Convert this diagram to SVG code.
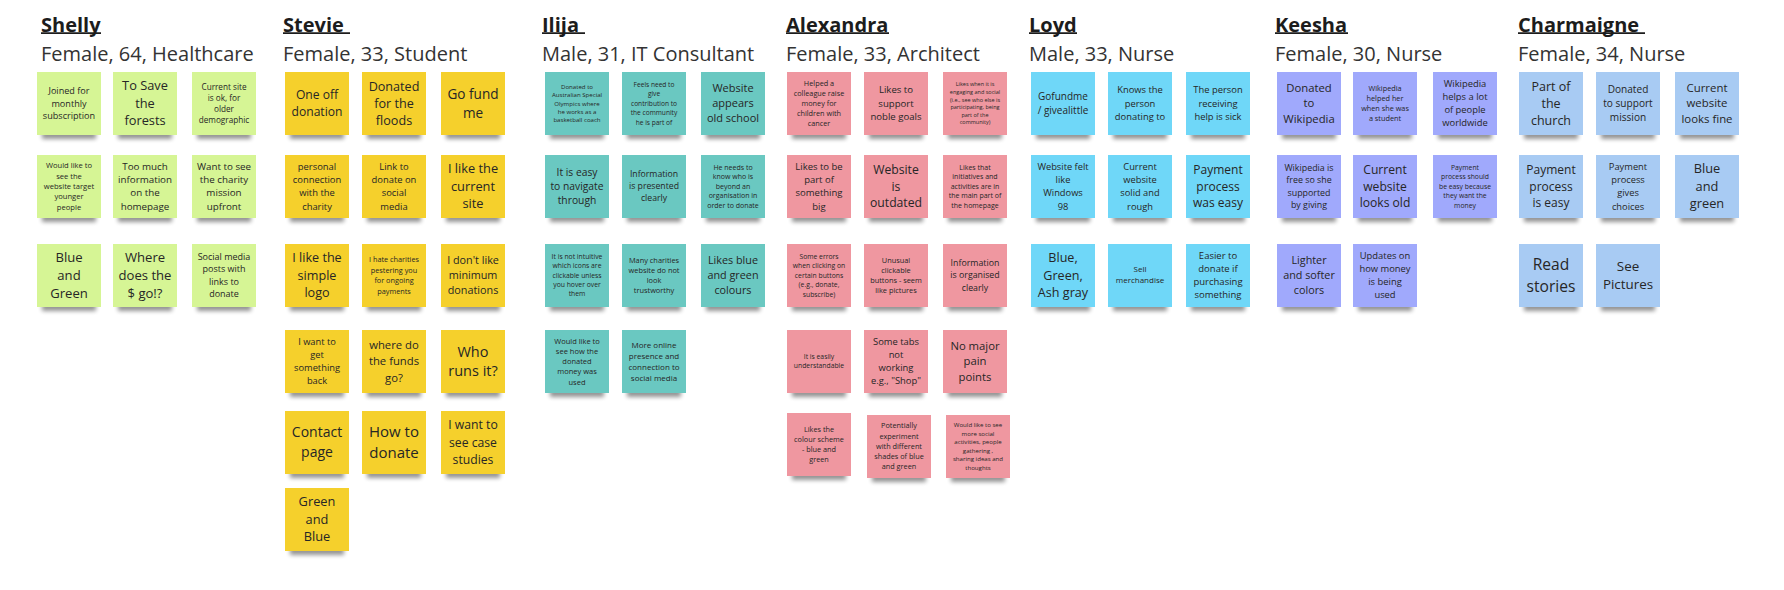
<svg xmlns="http://www.w3.org/2000/svg" width="1784" height="590" viewBox="0 0 1784 590">
<defs>
<filter id="blur" x="-20%" y="-100%" width="140%" height="300%"><feGaussianBlur stdDeviation="2.2"/></filter>
<style>
.hd{font-family:"Open Sans","Noto Sans","Liberation Sans",sans-serif;font-weight:700;font-size:20px;fill:#1c1c1c}
.sub{font-family:"Open Sans","Noto Sans","Liberation Sans",sans-serif;font-size:20px;fill:#333333}
.ul{stroke:#1c1c1c;stroke-width:1.7}
.t{font-family:"Open Sans","Noto Sans","Liberation Sans",sans-serif;fill:#262626;text-anchor:middle}
.sh{fill:#000;opacity:0.42;filter:url(#blur)}
.gr{fill:#d6f595}
.ye{fill:#f5d02c}
.te{fill:#6ac8c1}
.pk{fill:#ef97a0}
.bl{fill:#6fd7f8}
.vi{fill:#a0a9fc}
.lb{fill:#a8cbf3}
</style>
</defs>
<rect width="1784" height="590" fill="#ffffff"/>

<g id="headers">
<g id="shelly-header"><text class="hd" x="41" y="31.5">Shelly</text><line class="ul" x1="41" y1="33.2" x2="101" y2="33.2"/><text class="sub" x="41" y="60.5">Female, 64, Healthcare</text></g>
<g id="stevie-header"><text class="hd" x="283" y="31.5">Stevie</text><line class="ul" x1="283" y1="33.2" x2="350" y2="33.2"/><text class="sub" x="283" y="60.5">Female, 33, Student</text></g>
<g id="ilija-header"><text class="hd" x="542" y="31.5">Ilija</text><line class="ul" x1="542" y1="33.2" x2="585" y2="33.2"/><text class="sub" x="542" y="60.5">Male, 31, IT Consultant</text></g>
<g id="alexandra-header"><text class="hd" x="786" y="31.5">Alexandra</text><line class="ul" x1="786" y1="33.2" x2="889" y2="33.2"/><text class="sub" x="786" y="60.5">Female, 33, Architect</text></g>
<g id="loyd-header"><text class="hd" x="1029" y="31.5">Loyd</text><line class="ul" x1="1029" y1="33.2" x2="1077" y2="33.2"/><text class="sub" x="1029" y="60.5">Male, 33, Nurse</text></g>
<g id="keesha-header"><text class="hd" x="1275" y="31.5">Keesha</text><line class="ul" x1="1275" y1="33.2" x2="1348" y2="33.2"/><text class="sub" x="1275" y="60.5">Female, 30, Nurse</text></g>
<g id="charmaigne-header"><text class="hd" x="1518" y="31.5">Charmaigne</text><line class="ul" x1="1518" y1="33.2" x2="1645" y2="33.2"/><text class="sub" x="1518" y="60.5">Female, 34, Nurse</text></g>
</g>

<g id="connectors"></g>

<!-- Shelly -->
<g id="shelly-1"><rect class="sh" x="42" y="131" width="54" height="8"/><rect class="gr" x="37" y="72" width="64" height="63"/><text class="t" font-size="9.1"><tspan x="69" y="94.2">Joined for</tspan><tspan x="69" y="106.5">monthly</tspan><tspan x="69" y="118.8">subscription</tspan></text></g>
<g id="shelly-2"><rect class="sh" x="118" y="131" width="54" height="8"/><rect class="gr" x="113" y="72" width="64" height="63"/><text class="t" font-size="12.8"><tspan x="145" y="90.4">To Save</tspan><tspan x="145" y="107.7">the</tspan><tspan x="145" y="125">forests</tspan></text></g>
<g id="shelly-3"><rect class="sh" x="197" y="131" width="54" height="8"/><rect class="gr" x="192" y="72" width="64" height="63"/><text class="t" font-size="8.2"><tspan x="224" y="89.6">Current site</tspan><tspan x="224" y="100.7">is ok, for</tspan><tspan x="224" y="111.8">older</tspan><tspan x="224" y="122.9">demographic</tspan></text></g>
<g id="shelly-4"><rect class="sh" x="42" y="214" width="54" height="8"/><rect class="gr" x="37" y="155" width="64" height="63"/><text class="t" font-size="7.6"><tspan x="69" y="168.4">Would like to</tspan><tspan x="69" y="178.7">see the</tspan><tspan x="69" y="189">website target</tspan><tspan x="69" y="199.3">younger</tspan><tspan x="69" y="209.6">people</tspan></text></g>
<g id="shelly-5"><rect class="sh" x="118" y="214" width="54" height="8"/><rect class="gr" x="113" y="155" width="64" height="63"/><text class="t" font-size="9.8"><tspan x="145" y="169.8">Too much</tspan><tspan x="145" y="183.1">information</tspan><tspan x="145" y="196.4">on the</tspan><tspan x="145" y="209.7">homepage</tspan></text></g>
<g id="shelly-6"><rect class="sh" x="197" y="214" width="54" height="8"/><rect class="gr" x="192" y="155" width="64" height="63"/><text class="t" font-size="9.8"><tspan x="224" y="169.8">Want to see</tspan><tspan x="224" y="183.1">the charity</tspan><tspan x="224" y="196.4">mission</tspan><tspan x="224" y="209.7">upfront</tspan></text></g>
<g id="shelly-7"><rect class="sh" x="42" y="303" width="54" height="8"/><rect class="gr" x="37" y="244" width="64" height="63"/><text class="t" font-size="13.1"><tspan x="69" y="262.1">Blue</tspan><tspan x="69" y="279.8">and</tspan><tspan x="69" y="297.5">Green</tspan></text></g>
<g id="shelly-8"><rect class="sh" x="118" y="303" width="54" height="8"/><rect class="gr" x="113" y="244" width="64" height="63"/><text class="t" font-size="13.1"><tspan x="145" y="262.1">Where</tspan><tspan x="145" y="279.8">does the</tspan><tspan x="145" y="297.5">$ go!?</tspan></text></g>
<g id="shelly-9"><rect class="sh" x="197" y="303" width="54" height="8"/><rect class="gr" x="192" y="244" width="64" height="63"/><text class="t" font-size="9"><tspan x="224" y="260.2">Social media</tspan><tspan x="224" y="272.4">posts with</tspan><tspan x="224" y="284.6">links to</tspan><tspan x="224" y="296.8">donate</tspan></text></g>

<!-- Stevie -->
<g id="stevie-1"><rect class="sh" x="290" y="131" width="54" height="8"/><rect class="ye" x="285" y="72" width="64" height="63"/><text class="t" font-size="12.1"><tspan x="317" y="99.4">One off</tspan><tspan x="317" y="115.7">donation</tspan></text></g>
<g id="stevie-2"><rect class="sh" x="367" y="131" width="54" height="8"/><rect class="ye" x="362" y="72" width="64" height="63"/><text class="t" font-size="12.6"><tspan x="394" y="90.7">Donated</tspan><tspan x="394" y="107.7">for the</tspan><tspan x="394" y="124.7">floods</tspan></text></g>
<g id="stevie-3"><rect class="sh" x="446" y="131" width="54" height="8"/><rect class="ye" x="441" y="72" width="64" height="63"/><text class="t" font-size="13.6"><tspan x="473" y="98.5">Go fund</tspan><tspan x="473" y="117.5">me</tspan></text></g>
<g id="stevie-4"><rect class="sh" x="290" y="214" width="54" height="8"/><rect class="ye" x="285" y="155" width="64" height="63"/><text class="t" font-size="9.4"><tspan x="317" y="169.7">personal</tspan><tspan x="317" y="183">connection</tspan><tspan x="317" y="196.3">with the</tspan><tspan x="317" y="209.6">charity</tspan></text></g>
<g id="stevie-5"><rect class="sh" x="367" y="214" width="54" height="8"/><rect class="ye" x="362" y="155" width="64" height="63"/><text class="t" font-size="9.4"><tspan x="394" y="169.7">Link to</tspan><tspan x="394" y="183">donate on</tspan><tspan x="394" y="196.3">social</tspan><tspan x="394" y="209.6">media</tspan></text></g>
<g id="stevie-6"><rect class="sh" x="446" y="214" width="54" height="8"/><rect class="ye" x="441" y="155" width="64" height="63"/><text class="t" font-size="12.8"><tspan x="473" y="173">I like the</tspan><tspan x="473" y="190.7">current</tspan><tspan x="473" y="208.4">site</tspan></text></g>
<g id="stevie-7"><rect class="sh" x="290" y="303" width="54" height="8"/><rect class="ye" x="285" y="244" width="64" height="63"/><text class="t" font-size="12.6"><tspan x="317" y="262.2">I like the</tspan><tspan x="317" y="279.7">simple</tspan><tspan x="317" y="297.2">logo</tspan></text></g>
<g id="stevie-8"><rect class="sh" x="367" y="303" width="54" height="8"/><rect class="ye" x="362" y="244" width="64" height="63"/><text class="t" font-size="7.3"><tspan x="394" y="262.3">I hate charities</tspan><tspan x="394" y="272.7">pestering you</tspan><tspan x="394" y="283.1">for ongoing</tspan><tspan x="394" y="293.5">payments</tspan></text></g>
<g id="stevie-9"><rect class="sh" x="446" y="303" width="54" height="8"/><rect class="ye" x="441" y="244" width="64" height="63"/><text class="t" font-size="10.8"><tspan x="473" y="264.1">I don't like</tspan><tspan x="473" y="279.1">minimum</tspan><tspan x="473" y="294.1">donations</tspan></text></g>
<g id="stevie-10"><rect class="sh" x="290" y="389" width="54" height="8"/><rect class="ye" x="285" y="330" width="64" height="63"/><text class="t" font-size="9.3"><tspan x="317" y="345.1">I want to</tspan><tspan x="317" y="358.1">get</tspan><tspan x="317" y="371.1">something</tspan><tspan x="317" y="384.1">back</tspan></text></g>
<g id="stevie-11"><rect class="sh" x="367" y="389" width="54" height="8"/><rect class="ye" x="362" y="330" width="64" height="63"/><text class="t" font-size="11.3"><tspan x="394" y="348.9">where do</tspan><tspan x="394" y="365.2">the funds</tspan><tspan x="394" y="381.5">go?</tspan></text></g>
<g id="stevie-12"><rect class="sh" x="446" y="389" width="54" height="8"/><rect class="ye" x="441" y="330" width="64" height="63"/><text class="t" font-size="14.5"><tspan x="473" y="356.5">Who</tspan><tspan x="473" y="376.2">runs it?</tspan></text></g>
<g id="stevie-13"><rect class="sh" x="290" y="470" width="54" height="8"/><rect class="ye" x="285" y="411" width="64" height="63"/><text class="t" font-size="14"><tspan x="317" y="437.1">Contact</tspan><tspan x="317" y="457.1">page</tspan></text></g>
<g id="stevie-14"><rect class="sh" x="367" y="470" width="54" height="8"/><rect class="ye" x="362" y="411" width="64" height="63"/><text class="t" font-size="15"><tspan x="394" y="437.2">How to</tspan><tspan x="394" y="457.9">donate</tspan></text></g>
<g id="stevie-15"><rect class="sh" x="446" y="470" width="54" height="8"/><rect class="ye" x="441" y="411" width="64" height="63"/><text class="t" font-size="12.2"><tspan x="473" y="429">I want to</tspan><tspan x="473" y="446.5">see case</tspan><tspan x="473" y="464">studies</tspan></text></g>
<g id="stevie-16"><rect class="sh" x="290" y="547" width="54" height="8"/><rect class="ye" x="285" y="488" width="64" height="63"/><text class="t" font-size="12.8"><tspan x="317" y="506.2">Green</tspan><tspan x="317" y="523.7">and</tspan><tspan x="317" y="541.2">Blue</tspan></text></g>

<!-- Ilija -->
<g id="ilija-1"><rect class="sh" x="550" y="131" width="54" height="8"/><rect class="te" x="545" y="72" width="64" height="63"/><text class="t" font-size="6.1"><tspan x="577" y="88.7">Donated to</tspan><tspan x="577" y="97.1">Australian Special</tspan><tspan x="577" y="105.5">Olympics where</tspan><tspan x="577" y="113.9">he works as a</tspan><tspan x="577" y="122.3">basketball coach</tspan></text></g>
<g id="ilija-2"><rect class="sh" x="627" y="131" width="54" height="8"/><rect class="te" x="622" y="72" width="64" height="63"/><text class="t" font-size="6.6"><tspan x="654" y="86.7">Feels need to</tspan><tspan x="654" y="96.2">give</tspan><tspan x="654" y="105.7">contribution to</tspan><tspan x="654" y="115.2">the community</tspan><tspan x="654" y="124.7">he is part of</tspan></text></g>
<g id="ilija-3"><rect class="sh" x="706" y="131" width="54" height="8"/><rect class="te" x="701" y="72" width="64" height="63"/><text class="t" font-size="11"><tspan x="733" y="91.8">Website</tspan><tspan x="733" y="107.1">appears</tspan><tspan x="733" y="122.4">old school</tspan></text></g>
<g id="ilija-4"><rect class="sh" x="550" y="214" width="54" height="8"/><rect class="te" x="545" y="155" width="64" height="63"/><text class="t" font-size="10.3"><tspan x="577" y="176.2">It is easy</tspan><tspan x="577" y="189.9">to navigate</tspan><tspan x="577" y="203.6">through</tspan></text></g>
<g id="ilija-5"><rect class="sh" x="627" y="214" width="54" height="8"/><rect class="te" x="622" y="155" width="64" height="63"/><text class="t" font-size="8.7"><tspan x="654" y="177.4">Information</tspan><tspan x="654" y="189.4">is presented</tspan><tspan x="654" y="201.4">clearly</tspan></text></g>
<g id="ilija-6"><rect class="sh" x="706" y="214" width="54" height="8"/><rect class="te" x="701" y="155" width="64" height="63"/><text class="t" font-size="7"><tspan x="733" y="169.6">He needs to</tspan><tspan x="733" y="179.2">know who is</tspan><tspan x="733" y="188.8">beyond an</tspan><tspan x="733" y="198.4">organisation in</tspan><tspan x="733" y="208">order to donate</tspan></text></g>
<g id="ilija-7"><rect class="sh" x="550" y="303" width="54" height="8"/><rect class="te" x="545" y="244" width="64" height="63"/><text class="t" font-size="6.8"><tspan x="577" y="259.1">It is not intuitive</tspan><tspan x="577" y="268.4">which icons are</tspan><tspan x="577" y="277.7">clickable unless</tspan><tspan x="577" y="287">you hover over</tspan><tspan x="577" y="296.3">them</tspan></text></g>
<g id="ilija-8"><rect class="sh" x="627" y="303" width="54" height="8"/><rect class="te" x="622" y="244" width="64" height="63"/><text class="t" font-size="7.4"><tspan x="654" y="262.6">Many charities</tspan><tspan x="654" y="272.8">website do not</tspan><tspan x="654" y="283">look</tspan><tspan x="654" y="293.2">trustworthy</tspan></text></g>
<g id="ilija-9"><rect class="sh" x="706" y="303" width="54" height="8"/><rect class="te" x="701" y="244" width="64" height="63"/><text class="t" font-size="10.8"><tspan x="733" y="264.1">Likes blue</tspan><tspan x="733" y="279.1">and green</tspan><tspan x="733" y="294.1">colours</tspan></text></g>
<g id="ilija-10"><rect class="sh" x="550" y="389" width="54" height="8"/><rect class="te" x="545" y="330" width="64" height="63"/><text class="t" font-size="7.5"><tspan x="577" y="343.5">Would like to</tspan><tspan x="577" y="353.8">see how the</tspan><tspan x="577" y="364">donated</tspan><tspan x="577" y="374.3">money was</tspan><tspan x="577" y="384.5">used</tspan></text></g>
<g id="ilija-11"><rect class="sh" x="627" y="389" width="54" height="8"/><rect class="te" x="622" y="330" width="64" height="63"/><text class="t" font-size="8"><tspan x="654" y="347.5">More online</tspan><tspan x="654" y="358.6">presence and</tspan><tspan x="654" y="369.7">connection to</tspan><tspan x="654" y="380.8">social media</tspan></text></g>

<!-- Alexandra -->
<g id="alexandra-1"><rect class="sh" x="792" y="131" width="54" height="8"/><rect class="pk" x="787" y="72" width="64" height="63"/><text class="t" font-size="7.3"><tspan x="819" y="85.5">Helped a</tspan><tspan x="819" y="95.7">colleague raise</tspan><tspan x="819" y="105.9">money for</tspan><tspan x="819" y="116.1">children with</tspan><tspan x="819" y="126.3">cancer</tspan></text></g>
<g id="alexandra-2"><rect class="sh" x="869" y="131" width="54" height="8"/><rect class="pk" x="864" y="72" width="64" height="63"/><text class="t" font-size="9.6"><tspan x="896" y="93">Likes to</tspan><tspan x="896" y="106.7">support</tspan><tspan x="896" y="120.4">noble goals</tspan></text></g>
<g id="alexandra-3"><rect class="sh" x="948" y="131" width="54" height="8"/><rect class="pk" x="943" y="72" width="64" height="63"/><text class="t" font-size="5.5"><tspan x="975" y="86.3">Likes when it is</tspan><tspan x="975" y="93.9">engaging and social</tspan><tspan x="975" y="101.5">(i.e., see who else is</tspan><tspan x="975" y="109.1">participating, being</tspan><tspan x="975" y="116.7">part of the</tspan><tspan x="975" y="124.3">community)</tspan></text></g>
<g id="alexandra-4"><rect class="sh" x="792" y="214" width="54" height="8"/><rect class="pk" x="787" y="155" width="64" height="63"/><text class="t" font-size="9.5"><tspan x="819" y="169.7">Likes to be</tspan><tspan x="819" y="183">part of</tspan><tspan x="819" y="196.3">something</tspan><tspan x="819" y="209.6">big</tspan></text></g>
<g id="alexandra-5"><rect class="sh" x="869" y="214" width="54" height="8"/><rect class="pk" x="864" y="155" width="64" height="63"/><text class="t" font-size="12.2"><tspan x="896" y="173.8">Website</tspan><tspan x="896" y="190.5">is</tspan><tspan x="896" y="207.2">outdated</tspan></text></g>
<g id="alexandra-6"><rect class="sh" x="948" y="214" width="54" height="8"/><rect class="pk" x="943" y="155" width="64" height="63"/><text class="t" font-size="7"><tspan x="975" y="169.6">Likes that</tspan><tspan x="975" y="179.2">initiatives and</tspan><tspan x="975" y="188.8">activities are in</tspan><tspan x="975" y="198.4">the main part of</tspan><tspan x="975" y="208">the homepage</tspan></text></g>
<g id="alexandra-7"><rect class="sh" x="792" y="303" width="54" height="8"/><rect class="pk" x="787" y="244" width="64" height="63"/><text class="t" font-size="6.8"><tspan x="819" y="258.9">Some errors</tspan><tspan x="819" y="268.3">when clicking on</tspan><tspan x="819" y="277.7">certain buttons</tspan><tspan x="819" y="287.1">(e.g., donate,</tspan><tspan x="819" y="296.5">subscribe)</tspan></text></g>
<g id="alexandra-8"><rect class="sh" x="869" y="303" width="54" height="8"/><rect class="pk" x="864" y="244" width="64" height="63"/><text class="t" font-size="7.4"><tspan x="896" y="262.6">Unusual</tspan><tspan x="896" y="272.8">clickable</tspan><tspan x="896" y="283">buttons - seem</tspan><tspan x="896" y="293.2">like pictures</tspan></text></g>
<g id="alexandra-9"><rect class="sh" x="948" y="303" width="54" height="8"/><rect class="pk" x="943" y="244" width="64" height="63"/><text class="t" font-size="8.8"><tspan x="975" y="266.1">Information</tspan><tspan x="975" y="278.4">is organised</tspan><tspan x="975" y="290.7">clearly</tspan></text></g>
<g id="alexandra-10"><rect class="sh" x="792" y="389" width="54" height="8"/><rect class="pk" x="787" y="330" width="64" height="63"/><text class="t" font-size="6.8"><tspan x="819" y="359">It is easily</tspan><tspan x="819" y="368.3">understandable</tspan></text></g>
<g id="alexandra-11"><rect class="sh" x="869" y="389" width="54" height="8"/><rect class="pk" x="864" y="330" width="64" height="63"/><text class="t" font-size="9.4"><tspan x="896" y="345.1">Some tabs</tspan><tspan x="896" y="358.1">not</tspan><tspan x="896" y="371.1">working</tspan><tspan x="896" y="384.1">e.g., "Shop"</tspan></text></g>
<g id="alexandra-12"><rect class="sh" x="948" y="389" width="54" height="8"/><rect class="pk" x="943" y="330" width="64" height="63"/><text class="t" font-size="11.3"><tspan x="975" y="349.5">No major</tspan><tspan x="975" y="365.2">pain</tspan><tspan x="975" y="380.9">points</tspan></text></g>
<g id="alexandra-13"><rect class="sh" x="792" y="472" width="54" height="8"/><rect class="pk" x="787" y="413" width="64" height="63"/><text class="t" font-size="7.3"><tspan x="819" y="431.6">Likes the</tspan><tspan x="819" y="441.8">colour scheme</tspan><tspan x="819" y="452">- blue and</tspan><tspan x="819" y="462.2">green</tspan></text></g>
<g id="alexandra-14"><rect class="sh" x="872" y="474" width="54" height="8"/><rect class="pk" x="867" y="415" width="64" height="63"/><text class="t" font-size="7.3"><tspan x="899" y="428.4">Potentially</tspan><tspan x="899" y="438.7">experiment</tspan><tspan x="899" y="448.9">with different</tspan><tspan x="899" y="459.2">shades of blue</tspan><tspan x="899" y="469.4">and green</tspan></text></g>
<g id="alexandra-15"><rect class="sh" x="951" y="474" width="54" height="8"/><rect class="pk" x="946" y="415" width="64" height="63"/><text class="t" font-size="6.1"><tspan x="978" y="427.3">Would like to see</tspan><tspan x="978" y="435.8">more social</tspan><tspan x="978" y="444.3">activities, people</tspan><tspan x="978" y="452.8">gathering ,</tspan><tspan x="978" y="461.3">sharing ideas and</tspan><tspan x="978" y="469.8">thoughts</tspan></text></g>

<!-- Loyd -->
<g id="loyd-1"><rect class="sh" x="1036" y="131" width="54" height="8"/><rect class="bl" x="1031" y="72" width="64" height="63"/><text class="t" font-size="10"><tspan x="1063" y="99.8">Gofundme</tspan><tspan x="1063" y="113.8">/ givealittle</tspan></text></g>
<g id="loyd-2"><rect class="sh" x="1113" y="131" width="54" height="8"/><rect class="bl" x="1108" y="72" width="64" height="63"/><text class="t" font-size="9.4"><tspan x="1140" y="92.9">Knows the</tspan><tspan x="1140" y="106.6">person</tspan><tspan x="1140" y="120.3">donating to</tspan></text></g>
<g id="loyd-3"><rect class="sh" x="1191" y="131" width="54" height="8"/><rect class="bl" x="1186" y="72" width="64" height="63"/><text class="t" font-size="9.4"><tspan x="1218" y="92.9">The person</tspan><tspan x="1218" y="106.6">receiving</tspan><tspan x="1218" y="120.3">help is sick</tspan></text></g>
<g id="loyd-4"><rect class="sh" x="1036" y="214" width="54" height="8"/><rect class="bl" x="1031" y="155" width="64" height="63"/><text class="t" font-size="9.3"><tspan x="1063" y="169.7">Website felt</tspan><tspan x="1063" y="183">like</tspan><tspan x="1063" y="196.3">Windows</tspan><tspan x="1063" y="209.6">98</tspan></text></g>
<g id="loyd-5"><rect class="sh" x="1113" y="214" width="54" height="8"/><rect class="bl" x="1108" y="155" width="64" height="63"/><text class="t" font-size="9.3"><tspan x="1140" y="169.7">Current</tspan><tspan x="1140" y="183">website</tspan><tspan x="1140" y="196.3">solid and</tspan><tspan x="1140" y="209.6">rough</tspan></text></g>
<g id="loyd-6"><rect class="sh" x="1191" y="214" width="54" height="8"/><rect class="bl" x="1186" y="155" width="64" height="63"/><text class="t" font-size="12"><tspan x="1218" y="173.8">Payment</tspan><tspan x="1218" y="190.5">process</tspan><tspan x="1218" y="207.2">was easy</tspan></text></g>
<g id="loyd-7"><rect class="sh" x="1036" y="303" width="54" height="8"/><rect class="bl" x="1031" y="244" width="64" height="63"/><text class="t" font-size="12.6"><tspan x="1063" y="262.2">Blue,</tspan><tspan x="1063" y="279.7">Green,</tspan><tspan x="1063" y="297.2">Ash gray</tspan></text></g>
<g id="loyd-8"><rect class="sh" x="1113" y="303" width="54" height="8"/><rect class="bl" x="1108" y="244" width="64" height="63"/><text class="t" font-size="8"><tspan x="1140" y="271.8">Sell</tspan><tspan x="1140" y="282.8">merchandise</tspan></text></g>
<g id="loyd-9"><rect class="sh" x="1191" y="303" width="54" height="8"/><rect class="bl" x="1186" y="244" width="64" height="63"/><text class="t" font-size="9.5"><tspan x="1218" y="259">Easier to</tspan><tspan x="1218" y="272.1">donate if</tspan><tspan x="1218" y="285.2">purchasing</tspan><tspan x="1218" y="298.3">something</tspan></text></g>

<!-- Keesha -->
<g id="keesha-1"><rect class="sh" x="1282" y="131" width="54" height="8"/><rect class="vi" x="1277" y="72" width="64" height="63"/><text class="t" font-size="11.3"><tspan x="1309" y="91.7">Donated</tspan><tspan x="1309" y="107.2">to</tspan><tspan x="1309" y="122.7">Wikipedia</tspan></text></g>
<g id="keesha-2"><rect class="sh" x="1358" y="131" width="54" height="8"/><rect class="vi" x="1353" y="72" width="64" height="63"/><text class="t" font-size="7.3"><tspan x="1385" y="90.6">Wikipedia</tspan><tspan x="1385" y="100.8">helped her</tspan><tspan x="1385" y="111">when she was</tspan><tspan x="1385" y="121.2">a student</tspan></text></g>
<g id="keesha-3"><rect class="sh" x="1438" y="131" width="54" height="8"/><rect class="vi" x="1433" y="72" width="64" height="63"/><text class="t" font-size="9.4"><tspan x="1465" y="86.8">Wikipedia</tspan><tspan x="1465" y="100">helps a lot</tspan><tspan x="1465" y="113.2">of people</tspan><tspan x="1465" y="126.4">worldwide</tspan></text></g>
<g id="keesha-4"><rect class="sh" x="1282" y="214" width="54" height="8"/><rect class="vi" x="1277" y="155" width="64" height="63"/><text class="t" font-size="8.9"><tspan x="1309" y="170.5">Wikipedia is</tspan><tspan x="1309" y="183.1">free so she</tspan><tspan x="1309" y="195.7">supported</tspan><tspan x="1309" y="208.3">by giving</tspan></text></g>
<g id="keesha-5"><rect class="sh" x="1358" y="214" width="54" height="8"/><rect class="vi" x="1353" y="155" width="64" height="63"/><text class="t" font-size="12.1"><tspan x="1385" y="173.8">Current</tspan><tspan x="1385" y="190.5">website</tspan><tspan x="1385" y="207.2">looks old</tspan></text></g>
<g id="keesha-6"><rect class="sh" x="1438" y="214" width="54" height="8"/><rect class="vi" x="1433" y="155" width="64" height="63"/><text class="t" font-size="6.8"><tspan x="1465" y="169.9">Payment</tspan><tspan x="1465" y="179.3">process should</tspan><tspan x="1465" y="188.7">be easy because</tspan><tspan x="1465" y="198.1">they want the</tspan><tspan x="1465" y="207.5">money</tspan></text></g>
<g id="keesha-7"><rect class="sh" x="1282" y="303" width="54" height="8"/><rect class="vi" x="1277" y="244" width="64" height="63"/><text class="t" font-size="10.8"><tspan x="1309" y="264.1">Lighter</tspan><tspan x="1309" y="279.1">and softer</tspan><tspan x="1309" y="294.1">colors</tspan></text></g>
<g id="keesha-8"><rect class="sh" x="1358" y="303" width="54" height="8"/><rect class="vi" x="1353" y="244" width="64" height="63"/><text class="t" font-size="9.4"><tspan x="1385" y="259.1">Updates on</tspan><tspan x="1385" y="272.1">how money</tspan><tspan x="1385" y="285.1">is being</tspan><tspan x="1385" y="298.1">used</tspan></text></g>

<!-- Charmaigne -->
<g id="charmaigne-1"><rect class="sh" x="1524" y="131" width="54" height="8"/><rect class="lb" x="1519" y="72" width="64" height="63"/><text class="t" font-size="12.5"><tspan x="1551" y="90.6">Part of</tspan><tspan x="1551" y="107.6">the</tspan><tspan x="1551" y="124.6">church</tspan></text></g>
<g id="charmaigne-2"><rect class="sh" x="1601" y="131" width="54" height="8"/><rect class="lb" x="1596" y="72" width="64" height="63"/><text class="t" font-size="10.1"><tspan x="1628" y="93.1">Donated</tspan><tspan x="1628" y="106.8">to support</tspan><tspan x="1628" y="120.5">mission</tspan></text></g>
<g id="charmaigne-3"><rect class="sh" x="1680" y="131" width="54" height="8"/><rect class="lb" x="1675" y="72" width="64" height="63"/><text class="t" font-size="11.4"><tspan x="1707" y="91.8">Current</tspan><tspan x="1707" y="107.3">website</tspan><tspan x="1707" y="122.8">looks fine</tspan></text></g>
<g id="charmaigne-4"><rect class="sh" x="1524" y="214" width="54" height="8"/><rect class="lb" x="1519" y="155" width="64" height="63"/><text class="t" font-size="12"><tspan x="1551" y="173.8">Payment</tspan><tspan x="1551" y="190.5">process</tspan><tspan x="1551" y="207.2">is easy</tspan></text></g>
<g id="charmaigne-5"><rect class="sh" x="1601" y="214" width="54" height="8"/><rect class="lb" x="1596" y="155" width="64" height="63"/><text class="t" font-size="9.3"><tspan x="1628" y="169.7">Payment</tspan><tspan x="1628" y="183">process</tspan><tspan x="1628" y="196.3">gives</tspan><tspan x="1628" y="209.6">choices</tspan></text></g>
<g id="charmaigne-6"><rect class="sh" x="1680" y="214" width="54" height="8"/><rect class="lb" x="1675" y="155" width="64" height="63"/><text class="t" font-size="12.8"><tspan x="1707" y="173">Blue</tspan><tspan x="1707" y="190.7">and</tspan><tspan x="1707" y="208.4">green</tspan></text></g>
<g id="charmaigne-7"><rect class="sh" x="1524" y="303" width="54" height="8"/><rect class="lb" x="1519" y="244" width="64" height="63"/><text class="t" font-size="15.6"><tspan x="1551" y="269.8">Read</tspan><tspan x="1551" y="291.5">stories</tspan></text></g>
<g id="charmaigne-8"><rect class="sh" x="1601" y="303" width="54" height="8"/><rect class="lb" x="1596" y="244" width="64" height="63"/><text class="t" font-size="13.4"><tspan x="1628" y="270.6">See</tspan><tspan x="1628" y="289.3">Pictures</tspan></text></g>
</svg>
